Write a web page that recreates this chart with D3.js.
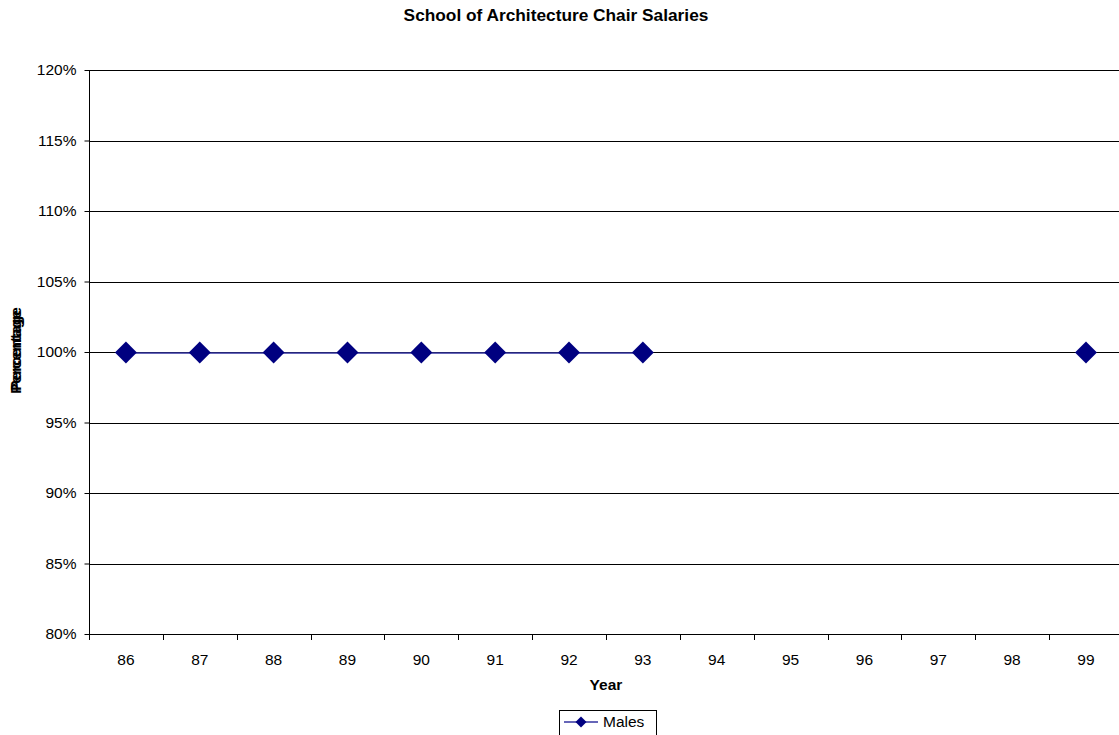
<!DOCTYPE html>
<html><head><meta charset="utf-8">
<script src="https://cdn.jsdelivr.net/npm/d3@7"></script>
<style>
body{margin:0;background:#fff;}
text{font-family:"Liberation Sans",Arial,sans-serif;}
</style></head>
<body>
<svg id="c" width="1119" height="735"></svg>
<script>
const years = ["86","87","88","89","90","91","92","93","94","95","96","97","98","99"];
const males = [100,100,100,100,100,100,100,100,null,null,null,null,null,100];
const yTicks = [80,85,90,95,100,105,110,115,120];

(function(){
const svg = d3.select("#c");
const pL = 89, pR = 89 + 14*73.85, pT = 70, pB = 634;
const FS = 15.5;

const x = d3.scaleBand().domain(years).range([pL, pR]);
const y = d3.scaleLinear().domain([80,120]).range([pB, pT]);

// gridlines
svg.append("g").selectAll("line").data(yTicks.filter(d=>d>80)).join("line")
  .attr("x1", pL).attr("x2", pR)
  .attr("y1", d=>Math.round(y(d))+0.5).attr("y2", d=>Math.round(y(d))+0.5)
  .attr("stroke", "#000").attr("stroke-width", 1);

// y axis
const ya = svg.append("g").attr("transform", `translate(${pL+0.5},0)`)
  .call(d3.axisLeft(y).tickValues(yTicks).tickFormat(d=>d+"%").tickSize(5).tickPadding(8));
ya.select(".domain").attr("stroke","#000").attr("d", `M0,${pT}V${pB+0.5}`);
ya.selectAll(".tick line").attr("stroke","#000");
ya.selectAll(".tick text").attr("font-size",FS).attr("fill","#000").style("font-family","'Liberation Sans',Arial,sans-serif");

// x axis
const xa = svg.append("g").attr("transform", `translate(0,${Math.round(pB)+0.5})`)
  .call(d3.axisBottom(x).tickSize(0).tickPadding(19));
xa.select(".domain").attr("stroke","#000").attr("d", `M${pL},0H${pR}`);
xa.selectAll(".tick text").attr("font-size",FS).attr("fill","#000").style("font-family","'Liberation Sans',Arial,sans-serif");
svg.append("g").selectAll("line").data(years).join("line")
  .attr("x1", d=>Math.round(x(d))+0.5).attr("x2", d=>Math.round(x(d))+0.5)
  .attr("y1", pB).attr("y2", pB+6).attr("stroke","#000");

// series line
const line = d3.line().defined(d=>d.v!=null)
  .x(d=>x(d.yr)+x.bandwidth()/2).y(d=>y(d.v)+1);
const pts = years.map((yr,i)=>({yr, v:males[i]}));
svg.append("path").datum(pts).attr("d", line).attr("fill","none")
  .attr("stroke","#3333a0").attr("stroke-width",1.5);

// markers
const sym = d3.symbol().type(d3.symbolSquare).size(240);
svg.append("g").selectAll("path").data(pts.filter(d=>d.v!=null)).join("path")
  .attr("d", sym)
  .attr("transform", d=>`translate(${x(d.yr)+x.bandwidth()/2},${y(d.v)+0.5}) rotate(45)`)
  .attr("fill","#000080");

// title
svg.append("text").attr("x", 556).attr("y", 21).attr("text-anchor","middle")
  .attr("font-size",17.3).attr("font-weight","bold").text("School of Architecture Chair Salaries");
// x label
svg.append("text").attr("x", 606).attr("y", 690).attr("text-anchor","middle")
  .attr("font-size",FS).attr("font-weight","bold").text("Year");
// y label (overlapping double)
[0,3].forEach(o=>{
  svg.append("text").attr("transform", `translate(${21},${352-o}) rotate(-90)`)
    .attr("text-anchor","middle").attr("font-size",FS).attr("font-weight","bold").text("Percentage");
});

// legend
const lg = svg.append("g");
lg.append("rect").attr("x",559.5).attr("y",710.5).attr("width",97).attr("height",26)
  .attr("fill","#fff").attr("stroke","#000");
lg.append("line").attr("x1",564).attr("x2",598).attr("y1",722).attr("y2",722)
  .attr("stroke","#3333a0").attr("stroke-width",1.5);
lg.append("path").attr("d", d3.symbol().type(d3.symbolSquare).size(60))
  .attr("transform","translate(581,722) rotate(45)").attr("fill","#000080");
lg.append("text").attr("x",603).attr("y",727).attr("font-size",FS).text("Males");
})();
</script>
</body></html>
